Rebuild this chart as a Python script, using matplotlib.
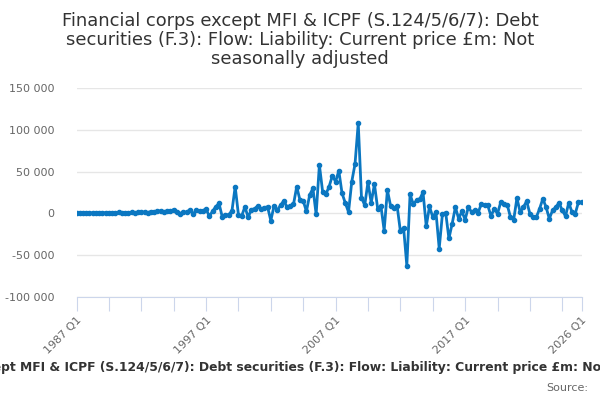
import matplotlib.pyplot as plt
import numpy as np

# quarterly flow, £m, 1987 Q1 .. 2026 Q1
values = [
    500, 800, 300, 600, 400, 900, 200, 700, 500, 1000,
    300, 800, 600, 1200, 400, 900, 700, 1500, 500, 1100,
    1300, 1800, 1000, 2200, 1500, 2500, 3200, 2000, 3000, 2600,
    4500, 1500, -300, 2000, 1200, 4400, -500, 3600, 2500, 3000,
    5500, -3500, 2500, 8000, 12000, -4000, -2000, -1500, 3000, 32000,
    -1500, -3000, 7800, -4500, 4500, 5700, 9000, 5000, 7000, 7800,
    -8600, 9000, 3700, 9800, 15000, 7800, 9000, 10700, 32000, 16000,
    15000, 2500, 22000, 30000, -1000, 58000, 26000, 23000, 32000, 45000,
    38000, 51000, 24000, 12500, 1600, 38000, 59000, 108000, 19000, 9700,
    37500, 12700, 35000, 5600, 9000, -20500, 27800, 8800, 6000, 9000,
    -21000, -17000, -62500, 22800, 11000, 15500, 17000, 25500, -15500, 8300,
    -4400, 1600, -42000, -400, 800, -30000, -12300, 7500, -6300, 2400,
    -7500, 7500, 1600, 3600, 400, 11500, 9500, 9500, -3200, 5600,
    -400, 13500, 11500, 10300, -4400, -7500, 18300, 1600, 7500, 14700,
    -400, -4400, -4400, 5600, 17500, 7500, -6300, 3600, 7500, 12700,
    3600, -3200, 12700, 1600, -400, 13500, 13500,
]
quarters = ['%d Q%d' % (1987 + i // 4, i % 4 + 1) for i in range(len(values))]
y_ticks = [-100000, -50000, 0, 50000, 100000, 150000]

title = ('Financial corps except MFI & ICPF (S.124/5/6/7): Debt securities (F.3): '
         'Flow: Liability: Current price £m: Not seasonally adjusted')

fig = plt.figure(figsize=(6, 4), dpi=100)
ax = fig.add_axes([76.5/600, 1-297/400, (581.7-76.5)/600, (297-88)/400])

x = np.arange(len(values))
ax.plot(x, values, color='#0b77c1', lw=2, marker='o', ms=3, zorder=3)

ax.set_xlim(0, len(values)-1)
ax.set_ylim(-100000, 150000)
ax.set_yticks(y_ticks)
ax.set_yticklabels(['{:,}'.format(v).replace(',', ' ') for v in y_ticks])
ax.grid(axis='y', color='#e6e6e6', lw=1)
ax.set_axisbelow(True)

xt = list(range(0, len(values), 10)) + [len(values)-1]
ax.set_xticks(xt)
ax.set_xticklabels([quarters[i] if (i % 40 == 0 or i == len(values)-1) else '' for i in xt])
ax.tick_params(axis='x', length=10, color='#ccd6eb', labelcolor='#666666', labelsize=8, pad=3)
ax.tick_params(axis='y', length=0, labelcolor='#666666', labelsize=8, pad=16)
plt.setp(ax.get_xticklabels(), rotation=45, ha='right', rotation_mode='anchor')
for side in ['top', 'right', 'left']:
    ax.spines[side].set_visible(False)
ax.spines['bottom'].set_color('#ccd6eb')

fig.text(0.5, 1-40/400, 'Financial corps except MFI & ICPF (S.124/5/6/7): Debt\n'
         'securities (F.3): Flow: Liability: Current price £m: Not\nseasonally adjusted',
         ha='center', va='center', fontsize=12.9, color='#333333', linespacing=1.05)
# caption runs past both edges, as in the original
fig.text(0.5 + 5/600, 1-367/400, title, ha='center', va='center', fontsize=8.9,
         fontweight='bold', color='#333333')
fig.text(588/600, 1-388/400, 'Source:', ha='right', va='center', fontsize=8, color='#666666')

plt.savefig('out.png', dpi=100, facecolor='white')
